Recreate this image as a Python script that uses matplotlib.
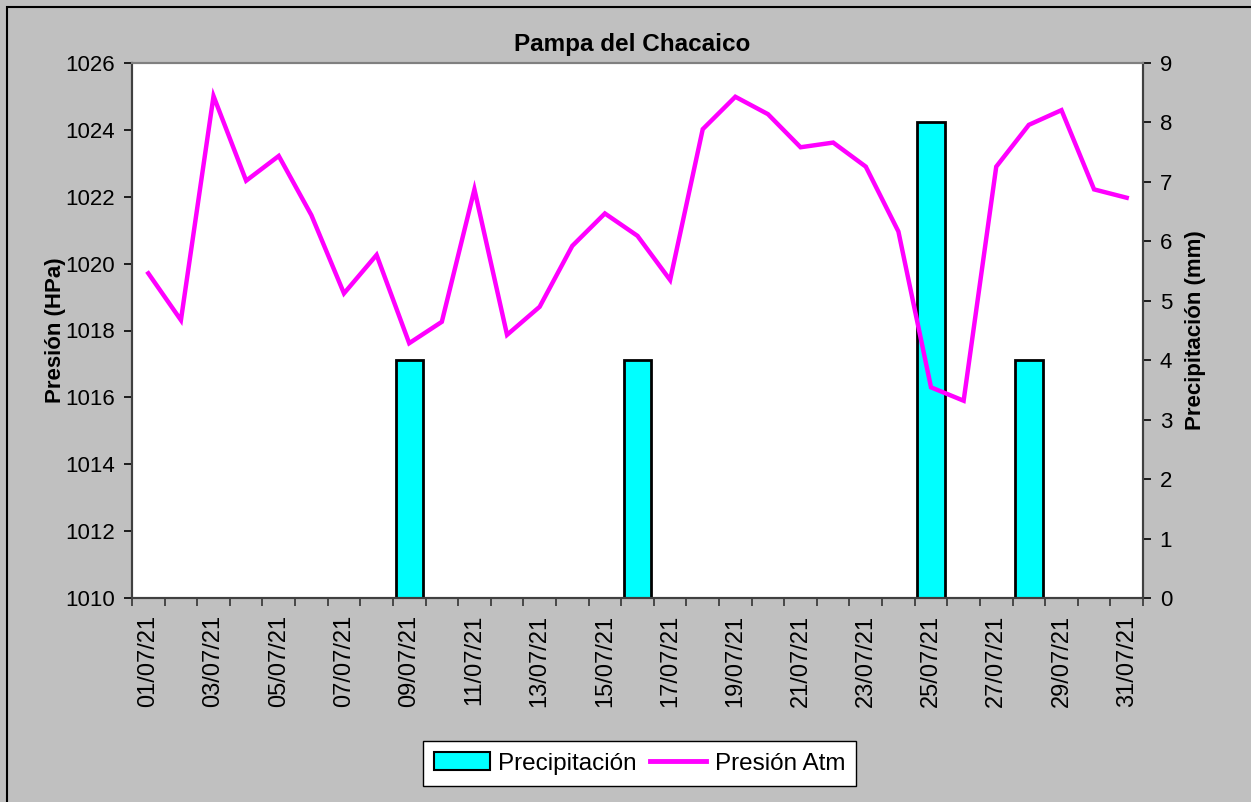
import matplotlib
matplotlib.use("Agg")
import matplotlib.pyplot as plt
import matplotlib.patches as mpatches
from matplotlib.lines import Line2D
import numpy as np

plt.rcParams["font.family"] = ["Liberation Sans", "DejaVu Sans"]

# data
fechas = [f"{d:02d}/07/21" for d in range(1, 32)]
presion = [1019.71, 1018.31, 1025.01, 1022.48, 1023.22, 1021.45, 1019.11, 1020.26,
           1017.62, 1018.26, 1022.22, 1017.87, 1018.71, 1020.53, 1021.50, 1020.83,
           1019.51, 1024.02, 1024.99, 1024.47, 1023.48, 1023.62, 1022.90, 1020.96,
           1016.30, 1015.90, 1022.90, 1024.15, 1024.59, 1022.22, 1021.97]
precip = [0, 0, 0, 0, 0, 0, 0, 0, 4, 0, 0, 0, 0, 0, 0, 4,
          0, 0, 0, 0, 0, 0, 0, 0, 8, 0, 0, 4, 0, 0, 0]

GRIS = "#C0C0C0"
CIAN = "#00FFFF"
MAGENTA = "#FF00FF"

W, H = 1251, 802
fig = plt.figure(figsize=(W / 100, H / 100), dpi=100)
fig.patch.set_facecolor(GRIS)

# outer border (only top/left visible in the crop)
fig.patches.append(mpatches.Rectangle((7 / W, -0.05), 1.1, 1 - 7 / H + 0.05,
                                      transform=fig.transFigure, fill=False,
                                      edgecolor="black", linewidth=1.5))

L, R, T, B = 132, 1143, 63, 598
ax2 = fig.add_axes([L / W, 1 - B / H, (R - L) / W, (B - T) / H])
ax = ax2.twinx()
ax.yaxis.tick_left()
ax.yaxis.set_label_position("left")
ax2.yaxis.tick_right()
ax2.yaxis.set_label_position("right")
ax.set_zorder(2)
ax2.set_zorder(1)
ax.patch.set_visible(False)
ax2.set_facecolor("white")

x = np.arange(len(fechas))

# bars on right axis
ax2.bar(x, precip, width=0.84, color=CIAN, edgecolor="black", linewidth=2)
ax2.set_ylim(0, 9)
ax2.set_yticks(range(0, 10))
ax2.set_ylabel("Precipitación (mm)", fontsize=16, fontweight="bold", labelpad=9)

# line on left axis
ax.plot(x, presion, color=MAGENTA, linewidth=3.2, solid_joinstyle="miter")
ax.set_ylim(1010, 1026)
ax.set_yticks(range(1010, 1027, 2))
ax.set_ylabel("Presión (HPa)", fontsize=16, fontweight="bold", labelpad=0)

ax.set_xlim(-0.5, len(fechas) - 0.5)
ax2.set_xlim(-0.5, len(fechas) - 0.5)
ax2.set_xticks(x[::2])
ax2.set_xticklabels(fechas[::2], rotation=90, fontsize=17)
ax2.set_xticks(np.arange(-0.5, len(fechas)), minor=True)
ax2.tick_params(axis="x", which="major", length=0, pad=12)
ax2.tick_params(axis="x", which="minor", length=6, width=1.2, color="#333333")
ax.tick_params(axis="x", which="both", bottom=False, labelbottom=False)
ax.tick_params(axis="y", labelsize=16, length=6, width=1.2, pad=6)
ax2.tick_params(axis="y", labelsize=16, length=6, width=1.2, pad=6)

for a in (ax, ax2):
    for s in ("left", "right", "bottom"):
        a.spines[s].set_color("#404040")
        a.spines[s].set_linewidth(1.5)
    a.spines["top"].set_color("#808080")
    a.spines["top"].set_linewidth(1.5)

fig.text(632 / W, 1 - 45 / H, "Pampa del Chacaico", ha="center", va="center",
         fontsize=17.5, fontweight="bold")

handles = [mpatches.Patch(facecolor=CIAN, edgecolor="black", linewidth=1.5),
           Line2D([], [], color=MAGENTA, linewidth=3.5)]
leg = fig.legend(handles, ["Precipitación", "Presión Atm"], ncol=2,
                 loc="center", bbox_to_anchor=(639.5 / W, 1 - 763.5 / H),
                 fontsize=17.5, frameon=True, fancybox=False, edgecolor="black",
                 facecolor="white", framealpha=1,
                 handlelength=2.3, handleheight=0.75, columnspacing=0.55,
                 handletextpad=0.35, borderpad=0.45)
leg.get_frame().set_linewidth(1.0)

fig.savefig("out.png", dpi=100, facecolor=GRIS)
